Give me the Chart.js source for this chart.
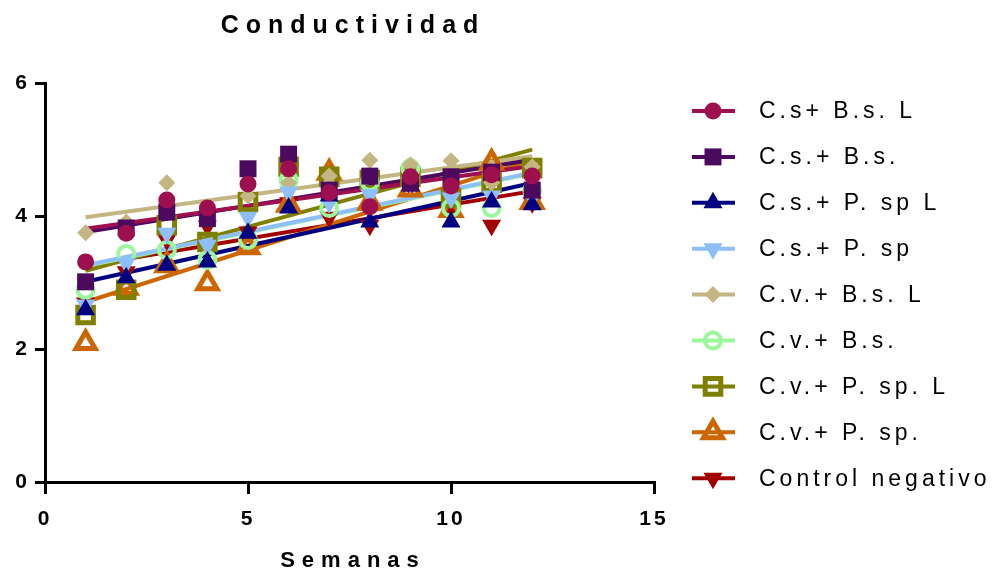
<!DOCTYPE html>
<html>
<head>
<meta charset="utf-8">
<title>Conductividad</title>
<script src="https://cdn.jsdelivr.net/npm/chart.js@4.4.1/dist/chart.umd.min.js"></script>
<style>
  html, body { margin: 0; padding: 0; background: #fff; }
</style>
</head>
<body>
<canvas id="myChart" width="993" height="575"></canvas>
<script>
// semanas de muestreo
const semanas = [1, 2, 3, 4, 5, 6, 7, 8, 9, 10, 11, 12];

// conductividad por tratamiento
const csBsL   = [3.31, 3.74, 4.24, 4.12, 4.48, 4.71, 4.35, 4.14, 4.59, 4.45, 4.62, 4.60];
const csBs    = [3.01, 3.82, 4.06, 3.96, 4.71, 4.93, 4.39, 4.60, 4.50, 4.59, 4.66, 4.39];
const csPspL  = [2.59, 3.07, 3.26, 3.31, 3.74, 4.12, 4.30, 3.91, 4.45, 3.91, 4.21, 4.17];
const csPsp   = [2.66, 3.29, 3.74, 3.56, 3.98, 4.36, 4.20, 4.32, 4.50, 4.27, 4.30, 4.28];
const cvBsL   = [3.75, 3.91, 4.50, 4.05, 4.30, 4.50, 4.60, 4.84, 4.77, 4.83, 4.50, 4.74];
const cvBs    = [2.89, 3.43, 3.49, 3.34, 3.64, 4.54, 4.12, 4.51, 4.72, 4.12, 4.12, 4.39];
const cvPspL  = [2.51, 2.89, 3.86, 3.61, 4.21, 4.74, 4.59, 4.54, 4.59, 4.27, 4.50, 4.72];
const cvPsp   = [2.09, 2.92, 3.26, 2.99, 3.53, 4.17, 4.65, 4.20, 4.40, 4.09, 4.80, 4.21];
const control = [2.69, 3.16, 3.64, 3.85, 3.76, 4.20, 3.98, 3.86, 4.45, 4.10, 3.86, 4.20];

const etiquetas = ['C.s+ B.s. L', 'C.s.+ B.s.', 'C.s.+ P. sp L', 'C.s.+ P. sp',
  'C.v.+ B.s. L', 'C.v.+ B.s.', 'C.v.+ P. sp. L', 'C.v.+ P. sp.', 'Control negativo'];
const valores = [csBsL, csBs, csPspL, csPsp, cvBsL, cvBs, cvPspL, cvPsp, control];

const xTicks = [0, 5, 10, 15];
const yTicks = [0, 2, 4, 6];

// estilo de cada serie (marcador, color, relleno)
const estilos = [
  { color: '#9E0F50', punto: 'circle',   radio: 8.5, rot: 0,   abierto: false },
  { color: '#4C0A5E', punto: 'rect',     radio: 12,  rot: 0,   abierto: false },
  { color: '#000080', punto: 'triangle', radio: 11,  rot: 0,   abierto: false },
  { color: '#8FBFFA', punto: 'triangle', radio: 11,  rot: 180, abierto: false },
  { color: '#C4B683', punto: 'rectRot',  radio: 8.5, rot: 0,   abierto: false },
  { color: '#9CF79C', punto: 'circle',   radio: 8,   rot: 0,   abierto: true, borde: 4 },
  { color: '#808000', punto: 'rect',     radio: 11,  rot: 0,   abierto: true, borde: 5 },
  { color: '#CC6600', punto: 'triangle', radio: 11,  rot: 0,   abierto: true, borde: 5 },
  { color: '#A30000', punto: 'triangle', radio: 11,  rot: 180, abierto: false }
];

// recta de minimos cuadrados entre la primera y la ultima semana
function ajusteLineal(xs, ys) {
  const n = xs.length;
  const mx = xs.reduce((a, b) => a + b, 0) / n;
  const my = ys.reduce((a, b) => a + b, 0) / n;
  let sxy = 0, sxx = 0;
  for (let i = 0; i < n; i++) {
    sxy += (xs[i] - mx) * (ys[i] - my);
    sxx += (xs[i] - mx) * (xs[i] - mx);
  }
  const b = sxy / sxx, a = my - b * mx;
  return [xs[0], xs[n - 1]].map(x => ({ x: x, y: a + b * x }));
}

const FUENTE = "'Liberation Sans', Arial, sans-serif";

const datasets = [];
valores.forEach((ys, i) => {
  const e = estilos[i];
  datasets.push({
    label: etiquetas[i],
    data: semanas.map((x, k) => ({ x: x, y: ys[k] })),
    showLine: false,
    pointStyle: e.punto,
    pointRadius: e.radio,
    pointRotation: e.rot,
    pointBackgroundColor: e.abierto ? 'rgba(0,0,0,0)' : e.color,
    pointBorderColor: e.color,
    pointBorderWidth: e.abierto ? e.borde : 0,
    order: i
  });
});
valores.forEach((ys, i) => {
  datasets.push({
    label: etiquetas[i] + ' ajuste',
    data: ajusteLineal(semanas, ys),
    showLine: true,
    borderColor: estilos[i].color,
    borderWidth: 4,
    pointRadius: 0,
    order: 20 + i
  });
});

// dibuja un texto con espaciado entre letras
function textoEspaciado(ctx, txt, x, y, font, esp, align) {
  ctx.save();
  ctx.font = font;
  ctx.letterSpacing = esp + 'px';
  ctx.fillStyle = '#000';
  ctx.textBaseline = 'middle';
  ctx.textAlign = 'left';
  const w = ctx.measureText(txt).width - esp;
  const x0 = align === 'center' ? x - w / 2 : x;
  ctx.fillText(txt, x0, y);
  ctx.restore();
}

const extras = {
  id: 'extras',
  beforeDraw(chart) {
    chart.ctx.letterSpacing = '3px';
  },
  afterDraw(chart) {
    const ctx = chart.ctx;
    const area = chart.chartArea;
    const cx = (area.left + area.right) / 2;
    textoEspaciado(ctx, 'Conductividad', cx, 26, 'bold 25px ' + FUENTE, 7, 'center');
    textoEspaciado(ctx, 'Semanas', cx, 561, 'bold 22px ' + FUENTE, 7, 'center');

    // leyenda: linea con marcador y nombre
    estilos.forEach((e, i) => {
      const y = 111 + i * 45.9;
      ctx.save();
      ctx.strokeStyle = e.color;
      ctx.lineWidth = 4;
      ctx.beginPath();
      ctx.moveTo(692, y);
      ctx.lineTo(735, y);
      ctx.stroke();
      ctx.fillStyle = e.abierto ? 'rgba(0,0,0,0)' : e.color;
      ctx.strokeStyle = e.color;
      ctx.lineWidth = e.abierto ? e.borde : 0;
      Chart.helpers.drawPoint(ctx, {
        pointStyle: e.punto,
        radius: e.radio,
        rotation: e.rot,
        borderWidth: e.abierto ? e.borde : 0
      }, 713, y);
      ctx.restore();
      textoEspaciado(ctx, etiquetas[i], 759, y + 1, '23px ' + FUENTE, 4, 'left');
    });
  }
};

const tickFont = { family: FUENTE, size: 21, weight: 'bold' };

new Chart(document.getElementById('myChart'), {
  type: 'scatter',
  data: { datasets: datasets },
  options: {
    responsive: false,
    animation: false,
    devicePixelRatio: 1,
    layout: { padding: { top: 83, right: 339, left: 0, bottom: 0 } },
    plugins: { legend: { display: false }, tooltip: { enabled: false } },
    scales: {
      x: {
        type: 'linear',
        min: 0, max: 15,
        afterBuildTicks(s) { s.ticks = xTicks.map(v => ({ value: v })); },
        afterFit(s) { s.height = 93; },
        grid: { display: true, drawOnChartArea: false, drawTicks: true, tickLength: 12, color: '#000', lineWidth: 3 },
        border: { display: true, color: '#000', width: 3 },
        ticks: { color: '#000', font: tickFont, padding: 13, maxRotation: 0 }
      },
      y: {
        type: 'linear',
        min: 0, max: 6,
        afterBuildTicks(s) { s.ticks = yTicks.map(v => ({ value: v })); },
        afterFit(s) { s.width = 45; },
        grid: { display: true, drawOnChartArea: false, drawTicks: true, tickLength: 10, color: '#000', lineWidth: 3 },
        border: { display: true, color: '#000', width: 3 },
        ticks: { color: '#000', font: tickFont, padding: 5 }
      }
    }
  },
  plugins: [extras]
});
</script>
</body>
</html>
